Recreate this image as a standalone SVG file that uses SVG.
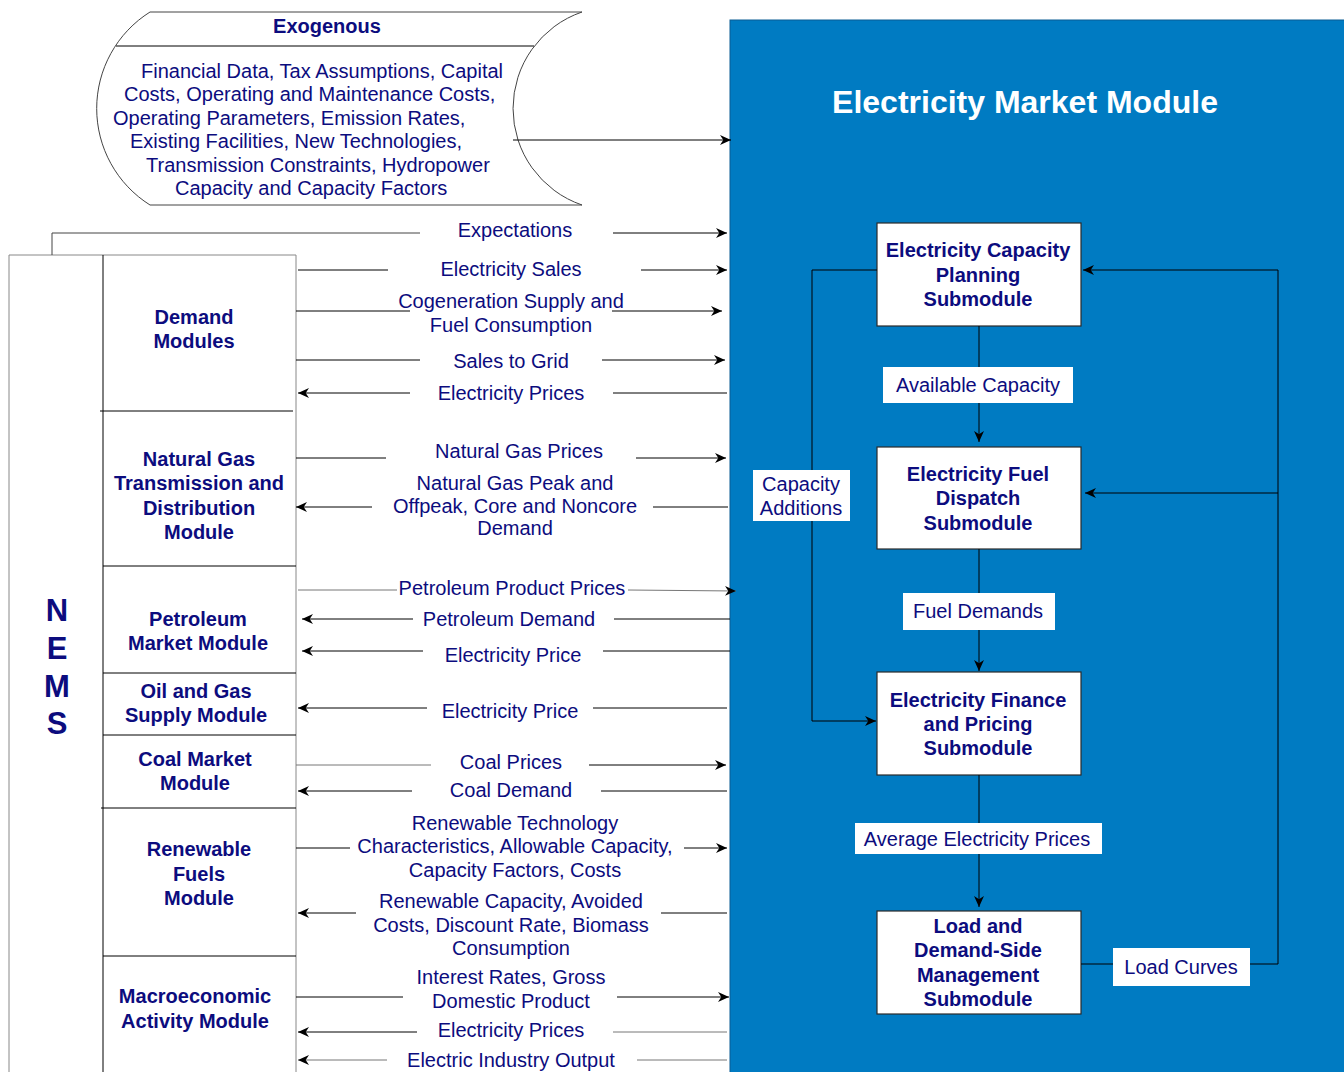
<svg xmlns="http://www.w3.org/2000/svg" width="1344" height="1072" viewBox="0 0 1344 1072">
<defs>
<marker id="ah" viewBox="0 0 10 10" refX="10" refY="5" markerWidth="11" markerHeight="11" markerUnits="userSpaceOnUse" orient="auto">
<path d="M0,0.5 L10,5 L0,9.5 L3,5 Z" fill="#000"/>
</marker>
<style>
text{font-family:"Liberation Sans",Arial,sans-serif;font-size:20px;fill:#0c0c7e}
.b{font-weight:bold}
.m{text-anchor:middle}
.t{font-weight:bold;font-size:32px;fill:#fff;text-anchor:middle}
.n{font-weight:bold;font-size:31px;text-anchor:middle}
.ln{stroke:#000;stroke-width:1;fill:none}
.g{stroke:#777}
.a{marker-end:url(#ah)}
.box{fill:#fff;stroke:#2a2a2a;stroke-width:1.2}
.lb{fill:#fff;stroke:none}
.frame{stroke:#888;stroke-width:1;fill:none}
</style>
</defs>
<rect width="1344" height="1072" fill="#fff"/>

<g id="emm-panel">
<rect x="730" y="20" width="620" height="1060" fill="#007BC2" stroke="#0b5d94" stroke-width="1"/>
<text class="t" x="1025" y="113">Electricity Market Module</text>
</g>

<g id="exogenous">
<path d="M150,12 L582,12 A102,102 0 0 0 582,205 L150,205 A114,114 0 0 1 150,12 Z" fill="#fff" stroke="#444" stroke-width="1"/>
<line x1="116" y1="46" x2="534" y2="46" stroke="#000" stroke-width="1"/>
<text class="b m" x="327" y="33">Exogenous</text>
<text x="141" y="78">Financial Data, Tax Assumptions, Capital</text>
<text x="124" y="101">Costs, Operating and Maintenance Costs,</text>
<text x="113" y="125">Operating Parameters, Emission Rates,</text>
<text x="130" y="148">Existing Facilities, New Technologies,</text>
<text x="146" y="172">Transmission Constraints, Hydropower</text>
<text x="175" y="195">Capacity and Capacity Factors</text>
</g>

<g id="nems">
<line class="frame" x1="9" y1="255" x2="9" y2="1072"/>
<line class="frame" x1="9" y1="255" x2="296" y2="255"/>
<line class="frame" x1="296" y1="255" x2="296" y2="1072"/>
<line class="ln" x1="103" y1="255" x2="103" y2="1072"/>
<text class="n" x="57" y="621">N</text>
<text class="n" x="57" y="659">E</text>
<text class="n" x="57" y="697">M</text>
<text class="n" x="57" y="734">S</text>
</g>

<g id="demand-modules">
<text class="b m" x="194" y="324">Demand</text>
<text class="b m" x="194" y="348">Modules</text>
<line class="ln" x1="100" y1="411" x2="293" y2="411"/>
</g>
<g id="natural-gas">
<text class="b m" x="199" y="466">Natural Gas</text>
<text class="b m" x="199" y="490">Transmission and</text>
<text class="b m" x="199" y="515">Distribution</text>
<text class="b m" x="199" y="539">Module</text>
<line class="ln" x1="103" y1="566" x2="296" y2="566"/>
</g>
<g id="petroleum">
<text class="b m" x="198" y="626">Petroleum</text>
<text class="b m" x="198" y="650">Market Module</text>
<line class="ln" x1="103" y1="673" x2="296" y2="673"/>
</g>
<g id="oil-gas">
<text class="b m" x="196" y="698">Oil and Gas</text>
<text class="b m" x="196" y="722">Supply Module</text>
<line class="ln" x1="103" y1="735" x2="296" y2="735"/>
</g>
<g id="coal">
<text class="b m" x="195" y="766">Coal Market</text>
<text class="b m" x="195" y="790">Module</text>
<line class="ln" x1="101" y1="808" x2="296" y2="808"/>
</g>
<g id="renewable">
<text class="b m" x="199" y="856">Renewable</text>
<text class="b m" x="199" y="881">Fuels</text>
<text class="b m" x="199" y="905">Module</text>
<line class="ln" x1="103" y1="956" x2="296" y2="956"/>
</g>
<g id="macro">
<text class="b m" x="195" y="1003">Macroeconomic</text>
<text class="b m" x="195" y="1028">Activity Module</text>
</g>

<g id="ecp">
<rect class="box" x="877" y="223" width="204" height="103"/>
<text class="b m" x="978" y="257">Electricity Capacity</text>
<text class="b m" x="978" y="282">Planning</text>
<text class="b m" x="978" y="306">Submodule</text>
</g>
<g id="efd">
<rect class="box" x="877" y="447" width="204" height="102"/>
<text class="b m" x="978" y="481">Electricity Fuel</text>
<text class="b m" x="978" y="505">Dispatch</text>
<text class="b m" x="978" y="530">Submodule</text>
</g>
<g id="efp">
<rect class="box" x="877" y="672" width="204" height="103"/>
<text class="b m" x="978" y="707">Electricity Finance</text>
<text class="b m" x="978" y="731">and Pricing</text>
<text class="b m" x="978" y="755">Submodule</text>
</g>
<g id="ldsm">
<rect class="box" x="877" y="911" width="204" height="103"/>
<text class="b m" x="978" y="933">Load and</text>
<text class="b m" x="978" y="957">Demand-Side</text>
<text class="b m" x="978" y="982">Management</text>
<text class="b m" x="978" y="1006">Submodule</text>
</g>

<g id="connectors">
<line class="ln a" x1="513" y1="140" x2="731" y2="140"/>
<polyline class="ln" stroke="#444" points="52,255 52,233 420,233" style="stroke:#444"/>
<line class="ln a" x1="613" y1="233" x2="727" y2="233"/>
<text class="m" x="515" y="237">Expectations</text>
<line class="ln" x1="298" y1="270" x2="388" y2="270"/>
<line class="ln a" x1="641" y1="270" x2="727" y2="270"/>
<text class="m" x="511" y="276">Electricity Sales</text>
<line class="ln" x1="296" y1="311" x2="410" y2="311"/>
<line class="ln a" x1="612" y1="311" x2="722" y2="311"/>
<text class="m" x="511" y="308">Cogeneration Supply and</text>
<text class="m" x="511" y="332">Fuel Consumption</text>
<line class="ln" x1="296" y1="360" x2="420" y2="360"/>
<line class="ln a" x1="602" y1="360" x2="725" y2="360"/>
<text class="m" x="511" y="368">Sales to Grid</text>
<line class="ln a" x1="410" y1="393" x2="298" y2="393"/>
<line class="ln" x1="613" y1="393" x2="727" y2="393"/>
<text class="m" x="511" y="400">Electricity Prices</text>
<line class="ln" x1="296" y1="458" x2="386" y2="458"/>
<line class="ln a" x1="636" y1="458" x2="726" y2="458"/>
<text class="m" x="519" y="458">Natural Gas Prices</text>
<line class="ln a" x1="372" y1="507" x2="296" y2="507"/>
<line class="ln" x1="653" y1="507" x2="728" y2="507"/>
<text class="m" x="515" y="490">Natural Gas Peak and</text>
<text class="m" x="515" y="513">Offpeak, Core and Noncore</text>
<text class="m" x="515" y="535">Demand</text>
<line class="ln g" x1="298" y1="590" x2="397" y2="590"/>
<line class="ln g a" x1="628" y1="590" x2="736" y2="591"/>
<text class="m" x="512" y="595">Petroleum Product Prices</text>
<line class="ln a" x1="413" y1="619" x2="302" y2="619"/>
<line class="ln" x1="614" y1="619" x2="730" y2="619"/>
<text class="m" x="509" y="626">Petroleum Demand</text>
<line class="ln a" x1="423" y1="651" x2="302" y2="651"/>
<line class="ln" x1="603" y1="651" x2="730" y2="651"/>
<text class="m" x="513" y="662">Electricity Price</text>
<line class="ln a" x1="427" y1="708" x2="298" y2="708"/>
<line class="ln" x1="593" y1="708" x2="727" y2="708"/>
<text class="m" x="510" y="718">Electricity Price</text>
<line class="ln g" x1="296" y1="765" x2="431" y2="765"/>
<line class="ln a" x1="589" y1="765" x2="726" y2="765"/>
<text class="m" x="511" y="769">Coal Prices</text>
<line class="ln a" x1="412" y1="791" x2="298" y2="791"/>
<line class="ln" x1="601" y1="791" x2="727" y2="791"/>
<text class="m" x="511" y="797">Coal Demand</text>
<line class="ln" x1="296" y1="848" x2="350" y2="848"/>
<line class="ln a" x1="684" y1="848" x2="727" y2="848"/>
<text class="m" x="515" y="830">Renewable Technology</text>
<text class="m" x="515" y="853">Characteristics, Allowable Capacity,</text>
<text class="m" x="515" y="877">Capacity Factors, Costs</text>
<line class="ln a" x1="356" y1="913" x2="298" y2="913"/>
<line class="ln" x1="661" y1="913" x2="727" y2="913"/>
<text class="m" x="511" y="908">Renewable Capacity, Avoided</text>
<text class="m" x="511" y="932">Costs, Discount Rate, Biomass</text>
<text class="m" x="511" y="955">Consumption</text>
<line class="ln" x1="296" y1="997" x2="403" y2="997"/>
<line class="ln a" x1="617" y1="997" x2="729" y2="997"/>
<text class="m" x="511" y="984">Interest Rates, Gross</text>
<text class="m" x="511" y="1008">Domestic Product</text>
<line class="ln a" x1="417" y1="1032" x2="298" y2="1032"/>
<line class="ln g" x1="613" y1="1032" x2="727" y2="1032"/>
<text class="m" x="511" y="1037">Electricity Prices</text>
<line class="ln g a" x1="387" y1="1060" x2="298" y2="1060"/>
<line class="ln g" x1="637" y1="1060" x2="727" y2="1060"/>
<text class="m" x="511" y="1067">Electric Industry Output</text>

<line class="ln a" x1="979" y1="326" x2="979" y2="442"/>
<rect class="lb" x="883" y="367" width="190" height="36"/>
<text class="m" x="978" y="392">Available Capacity</text>

<line class="ln a" x1="979" y1="549" x2="979" y2="671"/>
<rect class="lb" x="903" y="593" width="152" height="37"/>
<text class="m" x="978" y="618">Fuel Demands</text>

<line class="ln a" x1="979" y1="775" x2="979" y2="907"/>
<rect class="lb" x="855" y="823" width="247" height="31"/>
<text class="m" x="977" y="846">Average Electricity Prices</text>

<polyline class="ln a" points="877,270 812,270 812,721 876,721"/>
<rect class="lb" x="753" y="470" width="97" height="51"/>
<text class="m" x="801" y="491">Capacity</text>
<text class="m" x="801" y="515">Additions</text>

<polyline class="ln a" points="1081,964 1278,964 1278,270 1083,270"/>
<line class="ln a" x1="1278" y1="493" x2="1085" y2="493"/>
<rect class="lb" x="1113" y="948" width="137" height="38"/>
<text class="m" x="1181" y="974">Load Curves</text>
</g>
</svg>
